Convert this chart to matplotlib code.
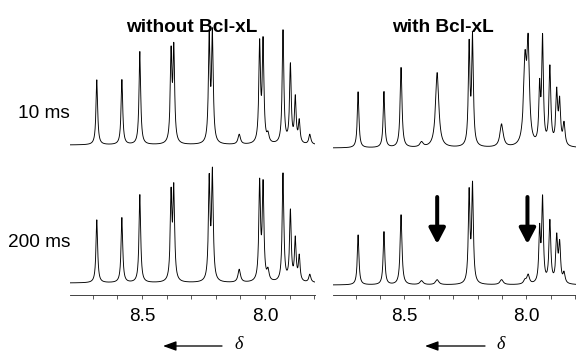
import numpy as np
import matplotlib
matplotlib.use("Agg")
import matplotlib.pyplot as plt
from matplotlib.ticker import FixedLocator, MultipleLocator, FormatStrFormatter

# ---------------- data ----------------
panel_titles = ["without Bcl-xL", "with Bcl-xL"]
mixing_times = ["10 ms", "200 ms"]
major_ticks = [8.5, 8.0]

# without Bcl-xL: chemical shifts (ppm) of resolved lines
free_shift = [8.684, 8.582, 8.509, 8.382, 8.371, 8.227, 8.214, 8.105,
              8.022, 8.008, 7.988, 7.927, 7.897, 7.877, 7.861, 7.818]
free_width = [0.004, 0.004, 0.004, 0.004, 0.004, 0.004, 0.004, 0.006,
              0.004, 0.004, 0.005, 0.004, 0.004, 0.004, 0.004, 0.005]
free_10ms = [65, 65, 93, 88, 92, 104, 108, 10, 98, 100, 8, 113, 78, 45, 22, 10]
free_200ms = [63, 65, 88, 85, 90, 100, 107, 13, 97, 95, 10, 108, 70, 42, 25, 8]

# with Bcl-xL
bound_shift = [8.690, 8.584, 8.514, 8.430, 8.366, 8.235, 8.221, 8.102,
               8.006, 7.993, 7.946, 7.934, 7.904, 7.876, 7.864, 7.846]
bound_width = [0.004, 0.004, 0.0045, 0.008, 0.008, 0.004, 0.004, 0.008,
               0.007, 0.006, 0.004, 0.004, 0.0045, 0.0045, 0.0045, 0.005]
bound_10ms = [56, 56, 80, 5, 75, 100, 108, 23, 80, 95, 55, 105, 78, 52, 42, 22]
bound_200ms = [50, 53, 70, 4, 5, 90, 97, 5, 4, 9, 52, 83, 62, 45, 38, 10]

arrow_shifts = [8.366, 7.996]   # lines lost on binding

# ---------------- figure ----------------
W, H, DPI = 576, 354, 72
fig = plt.figure(figsize=(W / DPI, H / DPI), dpi=DPI)
plt.rcParams['font.family'] = ['Liberation Sans', 'DejaVu Sans']

ppm = np.linspace(7.78, 8.81, 6000)


def spectrum(shifts, widths, heights):
    y = np.zeros_like(ppm)
    for c, g, h in zip(shifts, widths, heights):
        y += h * g * g / ((ppm - c) ** 2 + g * g)
    return y


def px_rect(x0, x1, ytop, ybot):
    return [x0 / W, (H - ybot) / H, (x1 - x0) / W, (ybot - ytop) / H]


axL = fig.add_axes(px_rect(70, 315, 25, 295))
axR = fig.add_axes(px_rect(333, 576, 25, 295))

panels = [
    (axL, free_shift, free_width, [free_10ms, free_200ms], [150, 12]),
    (axR, bound_shift, bound_width, [bound_10ms, bound_200ms], [147, 10]),
]

for ax, sh, wd, hs, offs in panels:
    for heights, off in zip(hs, offs):
        ax.plot(ppm, off + spectrum(sh, wd, heights), color='black', lw=0.9)
    ax.set_xlim(8.793, 7.797)
    ax.set_ylim(0, 270)
    for s in ['top', 'right', 'left']:
        ax.spines[s].set_visible(False)
    ax.spines['bottom'].set_color('#333333')
    ax.spines['bottom'].set_linewidth(0.9)
    ax.set_yticks([])
    ax.xaxis.set_major_locator(FixedLocator(major_ticks))
    ax.xaxis.set_major_formatter(FormatStrFormatter('%.1f'))
    ax.xaxis.set_minor_locator(MultipleLocator(0.1))
    ax.tick_params(axis='x', which='both', direction='out', length=4,
                   width=0.8, color='#333333', labelsize=19, pad=9)
    ax.patch.set_visible(False)

# arrows marking vanished lines
for xs in arrow_shifts:
    axR.annotate('', xy=(xs, 51), xytext=(xs, 98),
                 arrowprops=dict(arrowstyle='-|>,head_length=0.65,head_width=0.34',
                                 lw=4, color='black', mutation_scale=20,
                                 shrinkA=0, shrinkB=0))

# titles and row labels
fig.text(192 / W, (H - 32) / H, panel_titles[0], ha='center', va='baseline',
         fontsize=19, fontweight='bold')
fig.text(443 / W, (H - 32) / H, panel_titles[1], ha='center', va='baseline',
         fontsize=19, fontweight='bold')
fig.text(18 / W, (H - 118) / H, mixing_times[0], ha='left', va='baseline', fontsize=19)
fig.text(8 / W, (H - 247) / H, mixing_times[1], ha='left', va='baseline', fontsize=19)

# delta axis labels with arrows
ax0 = fig.add_axes([0, 0, 1, 1], facecolor='none')
ax0.set_xlim(0, W)
ax0.set_ylim(H, 0)
ax0.axis('off')
for tail, head, dx in [(222, 163, 239), (485, 425, 501)]:
    ax0.annotate('', xy=(head, 346), xytext=(tail, 346),
                 arrowprops=dict(arrowstyle='-|>,head_length=0.55,head_width=0.2',
                                 lw=1.3, color='black', mutation_scale=20,
                                 shrinkA=0, shrinkB=0))
    ax0.text(dx, 353, 'δ', ha='center', va='bottom', fontsize=18,
             fontstyle='italic', family=['Liberation Serif', 'DejaVu Serif'])

fig.savefig('out.png', dpi=DPI)
